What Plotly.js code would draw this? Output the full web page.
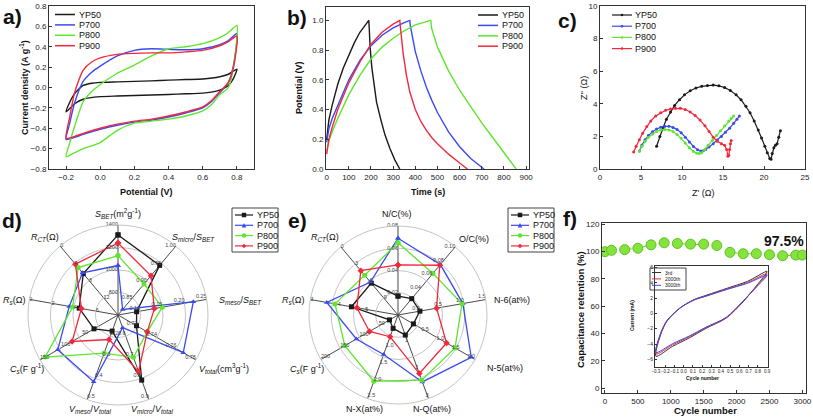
<!DOCTYPE html>
<html><head><meta charset="utf-8">
<script src="https://cdn.plot.ly/plotly-3.0.1.min.js"></script>
<style>html,body{margin:0;padding:0;background:#fff;}#chart{width:813px;height:417px;}</style>
</head><body><div id="chart"></div>
<script>
// ================= DATA =================
const seriesNames = ['YP50', 'P700', 'P800', 'P900'];
const seriesColors = ['#1a1a1a', '#3a4af2', '#5ee62e', '#f2283c'];
const radarSymbols = ['square', 'triangle-up', 'circle', 'diamond'];

// (a) cyclic voltammetry: forward scan then reverse scan
const cvPotential = [-0.2,-0.18,-0.15,-0.1,-0.05,0,0.1,0.2,0.3,0.4,0.5,0.6,0.7,0.75,0.8,
                     0.78,0.75,0.7,0.65,0.6,0.5,0.4,0.3,0.2,0.1,0,-0.1,-0.15,-0.2];
const cvYP50 = [-0.24,-0.15,-0.06,0.02,0.042,0.05,0.055,0.06,0.065,0.072,0.078,0.083,0.105,0.13,0.18,
                0.09,0.02,-0.025,-0.045,-0.055,-0.062,-0.068,-0.074,-0.079,-0.084,-0.09,-0.115,-0.16,-0.24];
const cvP700 = [-0.51,-0.36,-0.15,0.06,0.15,0.21,0.31,0.365,0.38,0.375,0.37,0.38,0.42,0.46,0.53,
                0.22,0.05,-0.05,-0.14,-0.2,-0.25,-0.29,-0.32,-0.34,-0.37,-0.41,-0.46,-0.49,-0.51];
const cvP800 = [-0.68,-0.55,-0.38,-0.14,-0.04,0.03,0.14,0.22,0.31,0.38,0.40,0.43,0.49,0.54,0.61,
                0.2,0.0,-0.07,-0.17,-0.23,-0.28,-0.31,-0.33,-0.35,-0.42,-0.54,-0.6,-0.64,-0.68];
const cvP900 = [-0.50,-0.30,-0.05,0.17,0.25,0.29,0.325,0.335,0.34,0.34,0.35,0.365,0.41,0.45,0.505,
                0.2,0.05,-0.04,-0.13,-0.19,-0.24,-0.28,-0.31,-0.33,-0.36,-0.40,-0.45,-0.48,-0.50];

// (b) galvanostatic charge/discharge
const gcdTimeYP50 = [0,10,25,50,75,100,125,150,175,190,192,196,204,213,225,243,263,285,308,330];
const gcdVoltYP50 = [0.2,0.33,0.43,0.57,0.68,0.77,0.85,0.92,0.97,1.0,0.95,0.82,0.68,0.57,0.45,0.34,0.23,0.14,0.06,0];
const gcdTimeP700 = [0,10,25,50,100,150,200,250,300,350,375,378,390,400,425,450,475,500,550,600,650,700,710];
const gcdVoltP700 = [0.18,0.27,0.34,0.43,0.60,0.73,0.83,0.90,0.95,0.985,1.0,0.96,0.86,0.79,0.66,0.55,0.46,0.38,0.25,0.15,0.07,0.01,0];
const gcdTimeP800 = [0,10,25,50,100,150,200,250,300,350,400,450,470,473,490,500,550,600,650,700,750,800,850,855];
const gcdVoltP800 = [0.12,0.19,0.25,0.34,0.50,0.63,0.74,0.82,0.88,0.93,0.97,0.99,1.0,0.95,0.87,0.82,0.66,0.53,0.42,0.31,0.21,0.11,0.01,0];
const gcdTimeP900 = [0,10,25,50,100,150,200,250,300,330,333,345,360,375,400,425,450,475,500,550,600,635];
const gcdVoltP900 = [0.1,0.2,0.28,0.40,0.58,0.72,0.84,0.92,0.975,1.0,0.95,0.78,0.63,0.52,0.40,0.32,0.26,0.21,0.17,0.10,0.04,0];

// (c) Nyquist plots
const eisReYP50 = [6.9,7.3,7.7,8.1,8.6,9.1,9.7,10.3,11.0,11.7,12.4,13.1,13.8,14.5,15.2,15.9,16.6,17.2,17.8,18.3,18.8,19.3,19.7,20.1,20.4,20.7,20.85,21.0,21.2,21.4,21.6,21.8,22.0];
const eisImYP50 = [1.4,2.0,2.55,3.05,3.5,3.9,4.25,4.55,4.8,4.97,5.07,5.12,5.15,5.1,5.0,4.82,4.55,4.25,3.85,3.45,2.95,2.4,1.9,1.4,1.0,0.65,0.6,0.95,1.3,1.45,1.55,1.95,2.35];
const eisReP700 = [4.8,5.1,5.5,5.9,6.4,6.9,7.4,7.9,8.4,8.9,9.4,9.9,10.4,10.9,11.4,11.9,12.3,12.6,12.9,13.3,13.8,14.3,14.8,15.3,15.8,16.3,16.7,17.0];
const eisImP700 = [1.1,1.45,1.8,2.05,2.28,2.45,2.56,2.62,2.62,2.55,2.42,2.22,1.95,1.65,1.38,1.18,1.1,1.12,1.2,1.35,1.55,1.78,2.0,2.25,2.5,2.8,3.05,3.25];
const eisReP800 = [4.8,5.1,5.5,5.9,6.4,6.9,7.4,7.9,8.4,8.9,9.4,9.9,10.4,10.9,11.4,11.8,12.1,12.4,12.8,13.2,13.7,14.2,14.7,15.2,15.7,16.0,16.3];
const eisImP800 = [1.1,1.4,1.7,1.95,2.15,2.3,2.4,2.43,2.4,2.3,2.12,1.88,1.6,1.3,1.07,0.97,0.95,1.0,1.2,1.45,1.75,2.05,2.35,2.65,2.95,3.1,3.25];
const eisReP900 = [4.1,4.4,4.8,5.2,5.7,6.2,6.8,7.4,8.0,8.6,9.2,9.8,10.4,11.0,11.6,12.2,12.8,13.3,13.8,14.3,14.8,15.2,15.45,15.6,15.7,15.8,15.9,16.0];
const eisImP900 = [1.05,1.4,1.8,2.2,2.6,2.95,3.25,3.45,3.6,3.68,3.72,3.72,3.65,3.5,3.28,3.0,2.65,2.3,1.95,1.7,1.55,1.45,1.2,0.78,0.85,1.2,1.55,1.75];

// (d)/(e) radar properties, order: YP50, P700, P800, P900
const sBET        = [1312, 1040, 1128, 1240];
const sMicroFrac  = [0.944, 0.816, 0.89, 0.914];
const sMesoFrac   = [0.092, 0.22, 0.15, 0.132];
const vTotal      = [0.719, 0.767, 0.730, 0.730];
const vMicroFrac  = [0.808, 0.56, 0.70, 0.768];
const vMesoFrac   = [0.176, 0.416, 0.28, 0.216];
const capacitance = [22, 108, 138, 74];
const rS          = [4.5, 3.6, 3.9, 4.7];
const rCT         = [6.4, 6.2, 5.0, 4.2];
const nC          = [0.017, 0.069, 0.065, 0.045];
const oC          = [0.024, 0.074, 0.061, 0.073];
const n6          = [0.0, 0.98, 0.96, 0.38];
const n5          = [0.0, 1.875, 1.35, 1.075];
const nQ          = [0.72, 2.4, 2.34, 2.1];
const nX          = [0.4, 1.18, 1.98, 0.65];

// (f) cycling stability
const cycleNumber = [0,100,300,500,700,900,1100,1300,1500,1700,1900,2100,2300,2500,2700,2900,3000];
const retention   = [100,101,101.5,102.5,105,106.5,106,105.5,105.5,104.5,99.5,98.5,98.5,97.8,97,97.5,97.5];
// inset CV at different cycles (forward branch then reverse branch)
const insetPotential = [-0.3,-0.25,-0.18,-0.04,0.11,0.25,0.47,0.69,0.9, 0.79,0.64,0.46,0.24,0.06,-0.12,-0.3];
const inset3rd    = [-5.6,-2.8,-1.0,0.7,1.8,2.4,3.3,4.2,5.5, 3.7,1.5,-0.6,-1.95,-3.2,-4.3,-5.6];
const inset2000th = [-5.3,-2.7,-0.95,0.72,1.75,2.3,3.2,4.05,5.2, 3.6,1.6,-0.55,-1.85,-3.05,-4.1,-5.3];
const inset3000th = [-5.1,-2.6,-0.9,0.72,1.75,2.3,3.15,3.95,5.0, 3.5,1.6,-0.5,-1.8,-2.95,-3.95,-5.1];
const insetNames  = ['3rd', '2000th', '3000th'];
const insetColors = ['#333333', '#f2283c', '#3a4af2'];

// ================= HELPERS =================
const W = 813, H = 417;
const FONT = 'Liberation Sans, Arial, sans-serif';
const px = x => x / W;
const py = y => 1 - y / H;
const xdom = (a, b) => [a / W, b / W];
const ydom = (top, bot) => [1 - bot / H, 1 - top / H];

const traces = [];
const shapes = [];
const annotations = [];

function ann(text, x, y, size, opts) {
  annotations.push(Object.assign({
    text: text, x: px(x), y: py(y), xref: 'paper', yref: 'paper',
    showarrow: false, xanchor: 'center', yanchor: 'middle',
    font: {family: FONT, size: size, color: '#111'}
  }, opts || {}));
}

function markerShape(sym, cx, cy, s, color) {
  const h = s / 2;
  if (sym === 'square') {
    shapes.push({type: 'rect', xref: 'paper', yref: 'paper', x0: px(cx - h), x1: px(cx + h), y0: py(cy + h), y1: py(cy - h), fillcolor: color, line: {width: 0}});
  } else if (sym === 'circle') {
    shapes.push({type: 'circle', xref: 'paper', yref: 'paper', x0: px(cx - h), x1: px(cx + h), y0: py(cy + h), y1: py(cy - h), fillcolor: color, line: {width: 0}});
  } else if (sym === 'triangle-up') {
    shapes.push({type: 'path', xref: 'paper', yref: 'paper', fillcolor: color, line: {width: 0},
      path: `M${px(cx - h)},${py(cy + h)} L${px(cx + h)},${py(cy + h)} L${px(cx)},${py(cy - h)} Z`});
  } else if (sym === 'diamond') {
    shapes.push({type: 'path', xref: 'paper', yref: 'paper', fillcolor: color, line: {width: 0},
      path: `M${px(cx - h)},${py(cy)} L${px(cx)},${py(cy - h)} L${px(cx + h)},${py(cy)} L${px(cx)},${py(cy + h)} Z`});
  }
}

function manualLegend(cfg) {
  if (cfg.box) {
    shapes.push({type: 'rect', xref: 'paper', yref: 'paper', x0: px(cfg.box[0]), x1: px(cfg.box[2]),
      y0: py(cfg.box[3]), y1: py(cfg.box[1]), line: {color: '#444', width: 1}, fillcolor: 'rgba(255,255,255,0)'});
  }
  cfg.names.forEach((name, i) => {
    const y = cfg.y0 + i * cfg.dy;
    shapes.push({type: 'line', xref: 'paper', yref: 'paper', x0: px(cfg.x0), x1: px(cfg.x0 + cfg.len),
      y0: py(y), y1: py(y), line: {color: cfg.colors[i], width: cfg.lw || 1.5}});
    if (cfg.symbols) markerShape(cfg.symbols[i], cfg.x0 + cfg.len / 2, y, cfg.ms || 5, cfg.colors[i]);
    ann(name, cfg.textX, y, cfg.size, {xanchor: 'left'});
  });
}

// ================= PANEL a =================
const cvSeries = [cvYP50, cvP700, cvP800, cvP900];
cvSeries.forEach((cur, k) => traces.push({
  x: cvPotential, y: cur, type: 'scatter', mode: 'lines', xaxis: 'x', yaxis: 'y',
  line: {color: seriesColors[k], width: 1.4, shape: 'spline', smoothing: 0.6},
  showlegend: false, hoverinfo: 'skip'
}));

// ================= PANEL b =================
const gcdT = [gcdTimeYP50, gcdTimeP700, gcdTimeP800, gcdTimeP900];
const gcdV = [gcdVoltYP50, gcdVoltP700, gcdVoltP800, gcdVoltP900];
gcdT.forEach((t, k) => traces.push({
  x: t, y: gcdV[k], type: 'scatter', mode: 'lines', xaxis: 'x2', yaxis: 'y2',
  line: {color: seriesColors[k], width: 1.4}, showlegend: false, hoverinfo: 'skip'
}));

// ================= PANEL c =================
const eisRe = [eisReYP50, eisReP700, eisReP800, eisReP900];
const eisIm = [eisImYP50, eisImP700, eisImP800, eisImP900];
eisRe.forEach((re, k) => traces.push({
  x: re, y: eisIm[k], type: 'scatter', mode: 'lines+markers', xaxis: 'x3', yaxis: 'y3',
  line: {color: seriesColors[k], width: 1.2}, marker: {color: seriesColors[k], size: 3},
  showlegend: false, hoverinfo: 'skip'
}));

// ================= PANELS d, e (radar) =================
const dSpokes = [
  {vals: sBET,       lo: 600,  hi: 1400, ticks: [800, 1000, 1200, 1400], fmt: v => String(v)},
  {vals: sMicroFrac, lo: 0.80, hi: 1.00, ticks: [0.85, 0.90, 0.95, 1.00], fmt: v => v.toFixed(2)},
  {vals: sMesoFrac,  lo: 0.05, hi: 0.25, ticks: [0.10, 0.15, 0.20, 0.25], fmt: v => v.toFixed(2)},
  {vals: vTotal,     lo: 0.70, hi: 0.78, ticks: [0.72, 0.74, 0.76, 0.78], fmt: v => v.toFixed(2)},
  {vals: vMicroFrac, lo: 0.5,  hi: 0.9,  ticks: [0.6, 0.7, 0.8, 0.9],     fmt: v => v.toFixed(1)},
  {vals: vMesoFrac,  lo: 0.1,  hi: 0.5,  ticks: [0.2, 0.3, 0.4, 0.5],     fmt: v => v.toFixed(1)},
  {vals: capacitance,lo: -35,  hi: 150,  ticks: [50, 100, 150],           fmt: v => String(v)},
  {vals: rS,         lo: 8,    hi: 0,    ticks: [0, 2, 4, 6],             fmt: v => String(v)},
  {vals: rCT,        lo: 16,   hi: 0,    ticks: [0, 4, 8, 12],            fmt: v => String(v)}
];
const eSpokes = [
  {vals: nC,         lo: 0,    hi: 0.08, ticks: [0.02, 0.04, 0.06, 0.08], fmt: v => v.toFixed(2)},
  {vals: oC,         lo: 0,    hi: 0.10, ticks: [0.04, 0.06, 0.08, 0.10], fmt: v => v.toFixed(2)},
  {vals: n6,         lo: -0.5, hi: 1.5,  ticks: [0.0, 0.5, 1.0, 1.5],     fmt: v => v.toFixed(1)},
  {vals: n5,         lo: -0.5, hi: 2.0,  ticks: [0.5, 1.0, 1.5, 2.0],     fmt: v => v.toFixed(1)},
  {vals: nQ,         lo: 0,    hi: 3,    ticks: [1, 2, 3],                fmt: v => String(v)},
  {vals: nX,         lo: 0,    hi: 2.5,  ticks: [1.0, 1.5, 2.0, 2.5],     fmt: v => v.toFixed(1)},
  {vals: capacitance,lo: 0,    hi: 200,  ticks: [50, 100, 150, 200],      fmt: v => String(v)},
  {vals: rS,         lo: 6.2,  hi: 3,    ticks: [3, 4, 5],                fmt: v => String(v)},
  {vals: rCT,        lo: 12,   hi: 0,    ticks: [0, 3, 6, 9],             fmt: v => String(v)}
];
const dTitles = [
  '<i>S</i><sub><i>BET</i></sub>(m<sup>2</sup>g<sup>-1</sup>)',
  '<i>S</i><sub><i>micro</i></sub>/<i>S</i><sub><i>BET</i></sub>',
  '<i>S</i><sub><i>meso</i></sub>/<i>S</i><sub><i>BET</i></sub>',
  '<i>V</i><sub><i>total</i></sub>(cm<sup>3</sup>g<sup>-1</sup>)',
  '<i>V</i><sub><i>micro</i></sub>/<i>V</i><sub><i>total</i></sub>',
  '<i>V</i><sub><i>meso</i></sub>/<i>V</i><sub><i>total</i></sub>',
  '<i>C</i><sub><i>s</i></sub>(F g<sup>-1</sup>)',
  '<i>R</i><sub><i>s</i></sub>(Ω)',
  '<i>R</i><sub><i>CT</i></sub>(Ω)'
];
const eTitles = ['N/C(%)', 'O/C(%)', 'N-6(at%)', 'N-5(at%)', 'N-Q(at%)', 'N-X(at%)',
  '<i>C</i><sub><i>s</i></sub>(F g<sup>-1</sup>)', '<i>R</i><sub><i>s</i></sub>(Ω)', '<i>R</i><sub><i>CT</i></sub>(Ω)'];
const dTitlePos = [[118,213],[193,237],[240,300],[224,368],[152,409],[90,409],[27,368],[14,300],[45,237]];
const eTitlePos = [[397,214],[474,239],[512,300],[505,368],[432,409],[364,409],[307,368],[293,300],[325,237]];
// where each spoke's tick labels sit relative to the tick (kept inside the polygon)
const spokeTickSide = ['middle left','middle left','top left','top left','top left','top right','top right','middle right','middle right'];

const spokeAngles = dSpokes.map((_, i) => i * 40);

function radar(spokes, polarId) {
  seriesNames.forEach((name, k) => {
    const r = spokes.map(s => (s.vals[k] - s.lo) / (s.hi - s.lo));
    traces.push({
      type: 'scatterpolar', subplot: polarId, mode: 'lines+markers',
      r: r.concat([r[0]]), theta: spokeAngles.concat([0]),
      line: {color: seriesColors[k], width: 1.3},
      marker: {color: seriesColors[k], size: 5, symbol: radarSymbols[k]},
      showlegend: false, hoverinfo: 'skip'
    });
  });
  const tr = [], tt = [], tx = [], tp = [];
  spokes.forEach((s, i) => s.ticks.forEach(t => {
    tr.push((t - s.lo) / (s.hi - s.lo)); tt.push(spokeAngles[i]); tx.push(s.fmt(t)); tp.push(spokeTickSide[i]);
  }));
  traces.push({
    type: 'scatterpolar', subplot: polarId, mode: 'text', r: tr, theta: tt, text: tx,
    textposition: tp, textfont: {family: FONT, size: 5.5, color: '#444'},
    showlegend: false, hoverinfo: 'skip', cliponaxis: false
  });
}
radar(dSpokes, 'polar');
radar(eSpokes, 'polar2');
dTitles.forEach((t, i) => ann(t, dTitlePos[i][0], dTitlePos[i][1], 9));
eTitles.forEach((t, i) => ann(t, eTitlePos[i][0], eTitlePos[i][1], 9));

// ================= PANEL f =================
traces.push({
  x: cycleNumber, y: retention, type: 'scatter', mode: 'lines+markers', xaxis: 'x4', yaxis: 'y4',
  line: {color: '#6cd12e', width: 1, dash: 'dash'},
  marker: {color: '#86e33f', size: 10, line: {color: '#5cc21f', width: 1}},
  showlegend: false, hoverinfo: 'skip'
});
[inset3rd, inset2000th, inset3000th].forEach((cur, k) => traces.push({
  x: insetPotential, y: cur, type: 'scatter', mode: 'lines', xaxis: 'x5', yaxis: 'y5',
  line: {color: insetColors[k], width: 1, shape: 'spline', smoothing: 0.8},
  showlegend: false, hoverinfo: 'skip'
}));

// ================= AXES =================
function frameAxis(extra) {
  return Object.assign({
    showline: true, mirror: true, linecolor: '#333', linewidth: 1,
    ticks: 'inside', ticklen: 3, tickcolor: '#333', showgrid: false, zeroline: false,
    tickfont: {family: FONT, size: 8, color: '#222'}
  }, extra);
}
const polarCommon = (dom) => ({
  domain: dom, bgcolor: 'rgba(0,0,0,0)', gridshape: 'linear',
  radialaxis: {range: [0, 1], tickvals: [0.25, 0.5, 0.75, 1], showticklabels: false, ticks: '',
    showline: false, gridcolor: '#c4c4c4', gridwidth: 1},
  angularaxis: {rotation: 90, direction: 'clockwise', tickmode: 'array', tickvals: spokeAngles,
    showticklabels: false, ticks: '', gridcolor: '#4a4a4a', gridwidth: 1,
    showline: true, linecolor: '#c4c4c4', linewidth: 1}
});

const layout = {
  width: W, height: H, margin: {l: 0, r: 0, t: 0, b: 0},
  paper_bgcolor: '#fff', plot_bgcolor: '#fff', showlegend: false,
  font: {family: FONT, color: '#111'},
  xaxis:  frameAxis({domain: xdom(49, 254), range: [-0.3, 0.9], tickvals: [-0.2,0,0.2,0.4,0.6,0.8], tickformat: '.1f', anchor: 'y'}),
  yaxis:  frameAxis({domain: ydom(6, 169), range: [-0.8, 0.8], dtick: 0.2, tickformat: '.1f', anchor: 'x'}),
  xaxis2: frameAxis({domain: xdom(326, 529), range: [-3, 913], dtick: 100, anchor: 'y2'}),
  yaxis2: frameAxis({domain: ydom(7, 169), range: [0, 1.09], dtick: 0.2, tickformat: '.1f', anchor: 'x2'}),
  xaxis3: frameAxis({domain: xdom(600, 805), range: [0, 25], dtick: 5, anchor: 'y3'}),
  yaxis3: frameAxis({domain: ydom(6, 169), range: [0, 10], dtick: 2, anchor: 'x3'}),
  xaxis4: frameAxis({domain: xdom(602, 806), range: [-45, 3055], dtick: 500, anchor: 'y4'}),
  yaxis4: frameAxis({domain: ydom(223, 393), range: [-3.5, 121], dtick: 20, anchor: 'x4'}),
  xaxis5: frameAxis({domain: xdom(655, 768), range: [-0.31, 0.91], dtick: 0.1, tickformat: '.1f', anchor: 'y5', ticklen: 2,
    tickangle: 0, tickfont: {family: FONT, size: 4.5, color: '#222'}}),
  yaxis5: frameAxis({domain: ydom(266, 367), range: [-7, 6.2], dtick: 2, anchor: 'x5', ticklen: 2,
    tickfont: {family: FONT, size: 5, color: '#222'}}),
  polar:  polarCommon({x: xdom(28, 208), y: ydom(225, 405)}),
  polar2: polarCommon({x: xdom(309, 487), y: ydom(226, 404)}),
  shapes: shapes, annotations: annotations
};

// axis titles
ann('<b>Potential (V)</b>', 146, 192, 9);
ann('<b>Current density (A g<sup>-1</sup>)</b>', 24, 88, 9, {textangle: -90});
ann('<b>Time (s)</b>', 428, 192, 9);
ann('<b>Potential (V)</b>', 299, 88, 9, {textangle: -90});
ann("Z' (Ω)", 703, 193, 9);
ann("Z'' (Ω)", 584, 88, 9, {textangle: -90});
ann('<b>Cycle number</b>', 705, 410, 9.5);
ann('<b>Capacitance retention (%)</b>', 580, 310, 9.5, {textangle: -90});
ann('<b>Current (mA)</b>', 632, 316, 5, {textangle: -90});
ann('<b>Cycle number</b>', 702, 378, 5);
ann('<b>97.5%</b>', 784, 241, 14);

// panel letters
ann('<b>a)</b>', 12, 17, 21);
ann('<b>b)</b>', 297, 18, 21);
ann('<b>c)</b>', 567, 20, 21);
ann('<b>d)</b>', 12, 220, 21);
ann('<b>e)</b>', 297, 220, 21);
ann('<b>f)</b>', 570, 218, 21);

// legends
manualLegend({names: seriesNames, colors: seriesColors, x0: 55, len: 20, textX: 77, y0: 14.5, dy: 10.4, size: 9});
manualLegend({names: seriesNames, colors: seriesColors, x0: 478, len: 20, textX: 500, y0: 15, dy: 10.4, size: 9});
manualLegend({names: seriesNames, colors: seriesColors, x0: 612, len: 20, textX: 633, y0: 15, dy: 11.2, size: 9,
  symbols: ['circle','circle','circle','circle'], ms: 2.5, lw: 1.2});
manualLegend({names: seriesNames, colors: seriesColors, x0: 235, len: 18, textX: 255, y0: 215, dy: 10.3, size: 9,
  symbols: radarSymbols, ms: 4.5, lw: 1.2, box: [232, 208, 278, 252]});
manualLegend({names: seriesNames, colors: seriesColors, x0: 511, len: 18, textX: 531, y0: 215, dy: 10.3, size: 9,
  symbols: radarSymbols, ms: 4.5, lw: 1.2, box: [508, 208, 554, 252]});
manualLegend({names: insetNames, colors: insetColors, x0: 652, len: 9, textX: 663, y0: 272.5, dy: 6.4, size: 5,
  lw: 1, box: [650, 268, 686, 290]});

Plotly.newPlot('chart', traces, layout, {staticPlot: true, displayModeBar: false});
</script>
</body></html>
